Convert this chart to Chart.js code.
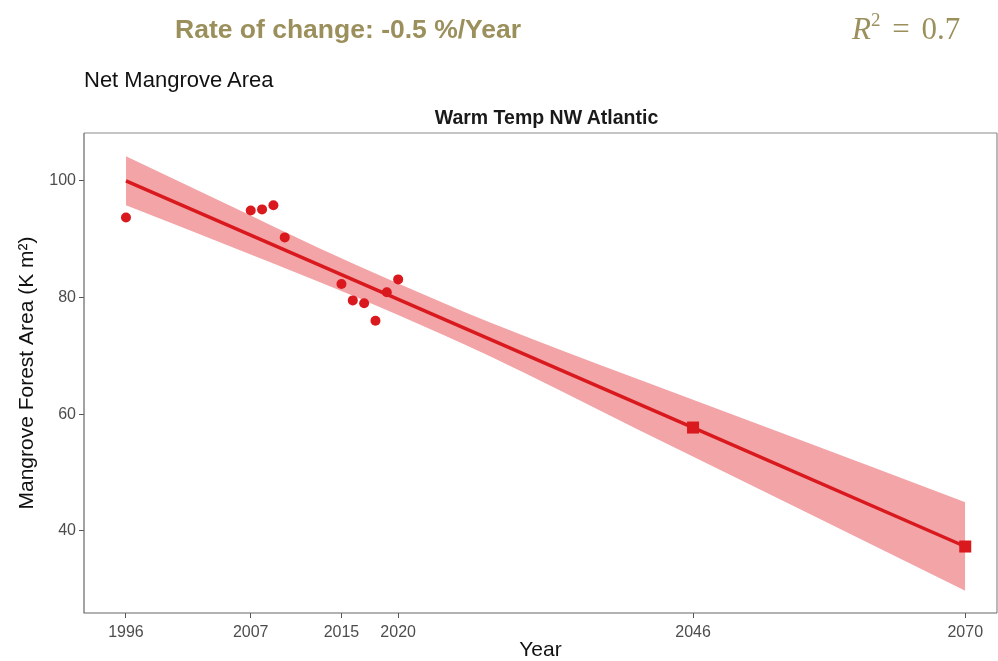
<!DOCTYPE html>
<html>
<head>
<meta charset="utf-8">
<script src="https://cdn.jsdelivr.net/npm/chart.js@4.4.0/dist/chart.umd.min.js"></script>
<style>
  html, body { margin:0; padding:0; background:#fff; }
  #wrap { position:relative; width:998px; height:661px; overflow:hidden; }
  canvas { position:absolute; left:0; top:0; }
  .hdr { position:absolute; white-space:nowrap; color:#9b8f5c; }
  #rate { left:175px; top:14px; font:bold 26.5px "Liberation Sans", Arial, sans-serif; }
  #r2 { left:852px; top:11px; font:31px "Liberation Serif", "DejaVu Serif", serif; word-spacing:4px; }
  #r2 sup { font-size:19px; position:relative; top:-2px; }
  #net { position:absolute; left:84px; top:67px; font:22px "Liberation Sans", Arial, sans-serif; color:#111; }
  #panel { position:absolute; left:90px; width:913px; top:106px; text-align:center; font:bold 19.5px "Liberation Sans", Arial, sans-serif; color:#1a1a1a; }
</style>
</head>
<body>
<div id="wrap">
  <canvas id="c" width="998" height="661"></canvas>
  <div class="hdr" id="rate">Rate of change: -0.5 %/Year</div>
  <div class="hdr" id="r2"><i>R</i><sup>2</sup> = 0.7</div>
  <div id="net">Net Mangrove Area</div>
  <div id="panel">Warm Temp NW Atlantic</div>
</div>
<script>
// Observed data
const obsYears = [1996, 2007, 2008, 2009, 2010, 2015, 2016, 2017, 2018, 2019, 2020];
const obsArea  = [93.7, 94.9, 95.1, 95.8, 90.3, 82.3, 79.5, 79.0, 76.0, 80.9, 83.1];
// Projected values
const projYears = [2046, 2070];
const projArea  = [57.7, 37.3];
// Fitted trend line
const fitYears = [1996, 2046, 2070];
const fitArea  = [100.0, 57.7, 37.3];
// Confidence band
const bandYears = [1996, 2005, 2013, 2020, 2028, 2041, 2055, 2070];
const bandUpper = [104.2, 95.9, 88.5, 82.4, 75.8, 66.1, 55.9, 44.9];
const bandLower = [95.8, 88.9, 82.7, 77.0, 70.0, 57.5, 44.1, 29.7];
// Axis ticks
const xTicks = [1996, 2007, 2015, 2020, 2046, 2070];
const yTicks = [40, 60, 80, 100];

const pts = (xs, ys) => xs.map((x, i) => ({x: x, y: ys[i]}));
const red = '#d9191e';

const boxPlugin = {
  id: 'box',
  afterDraw(chart) {
    const a = chart.chartArea, ctx = chart.ctx;
    ctx.save();
    ctx.strokeStyle = '#8c8c8c';
    ctx.lineWidth = 1.2;
    ctx.beginPath();
    ctx.moveTo(a.left, a.top); ctx.lineTo(a.right, a.top);
    ctx.moveTo(a.right, a.top); ctx.lineTo(a.right, a.bottom);
    ctx.stroke();
    ctx.strokeStyle = '#666';
    ctx.beginPath();
    ctx.moveTo(a.left, a.top); ctx.lineTo(a.left, a.bottom); ctx.lineTo(a.right, a.bottom);
    ctx.stroke();
    ctx.restore();
  }
};

new Chart(document.getElementById('c'), {
  type: 'scatter',
  data: {
    datasets: [
      { label: 'upper', data: pts(bandYears, bandUpper), showLine: true, borderWidth: 0, pointRadius: 0, borderColor: 'rgba(0,0,0,0)', fill: false, cubicInterpolationMode: 'monotone', order: 5 },
      { label: 'lower', data: pts(bandYears, bandLower), showLine: true, borderWidth: 0, pointRadius: 0, borderColor: 'rgba(0,0,0,0)', backgroundColor: '#f2a4a7', fill: '-1', cubicInterpolationMode: 'monotone', order: 4 },
      { label: 'fit', data: pts(fitYears, fitArea), showLine: true, borderColor: red, borderWidth: 3.5, pointRadius: 0, fill: false, order: 3 },
      { label: 'proj', data: pts(projYears, projArea), pointStyle: 'rect', pointRadius: 8.5, backgroundColor: red, borderColor: red, borderWidth: 0, order: 2 },
      { label: 'obs', data: pts(obsYears, obsArea), pointStyle: 'circle', pointRadius: 5, backgroundColor: red, borderColor: red, borderWidth: 0, order: 1 }
    ]
  },
  options: {
    responsive: false,
    animation: false,
    events: [],
    layout: { autoPadding: false, padding: { top: 133, right: 1, left: 0, bottom: 0 } },
    plugins: { legend: { display: false }, tooltip: { enabled: false }, title: { display: false } },
    scales: {
      x: {
        type: 'linear', min: 1992.3, max: 2072.8,
        afterBuildTicks: s => { s.ticks = xTicks.map(v => ({value: v})); },
        afterFit: s => { s.height = 48; s.paddingLeft = 0; s.paddingRight = 0; },
        grid: { drawOnChartArea: false, drawTicks: true, tickLength: 5, color: '#555', lineWidth: 1 },
        border: { display: false },
        ticks: { color: '#4d4d4d', font: { family: 'Liberation Sans', size: 16 }, padding: 5, maxRotation: 0, autoSkip: false, callback: v => String(v) },
        title: { display: true, text: 'Year', color: '#111', font: { family: 'Liberation Sans', size: 21, lineHeight: 1 }, padding: { top: 0, bottom: 0 } }
      },
      y: {
        type: 'linear', min: 25.9, max: 108.2,
        afterBuildTicks: s => { s.ticks = yTicks.map(v => ({value: v})); },
        afterFit: s => { s.width = 84; s.paddingTop = 0; s.paddingBottom = 0; },
        grid: { drawOnChartArea: false, drawTicks: true, tickLength: 5, color: '#555', lineWidth: 1 },
        border: { display: false },
        ticks: { color: '#4d4d4d', font: { family: 'Liberation Sans', size: 16 }, padding: 3, callback: v => String(v) },
        title: { display: true, text: 'Mangrove Forest Area (K m²)', color: '#111', font: { family: 'Liberation Sans', size: 21, lineHeight: 1 }, padding: { top: 17, bottom: 0 } }
      }
    }
  },
  plugins: [boxPlugin]
});
</script>
</body>
</html>
